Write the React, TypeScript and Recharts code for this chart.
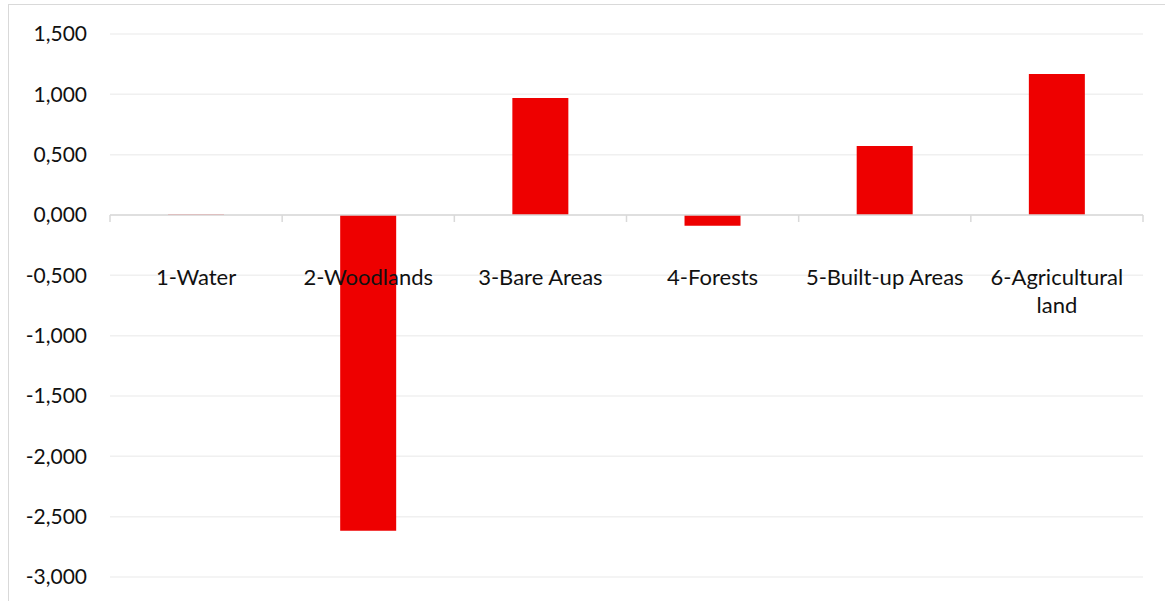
import { Bar, BarChart, CartesianGrid, ReferenceLine, XAxis, YAxis } from "recharts";

// Land cover change per class
const CATEGORIES = [
  "1-Water",
  "2-Woodlands",
  "3-Bare Areas",
  "4-Forests",
  "5-Built-up Areas",
  "6-Agricultural land",
];
const CHANGE = [0.004, -2.617, 0.97, -0.089, 0.572, 1.169];
const Y_TICKS = [1.5, 1, 0.5, 0, -0.5, -1, -1.5, -2, -2.5, -3];

const data = CATEGORIES.map((name, i) => ({ name, change: CHANGE[i] }));

const WIDTH = 1165;
const HEIGHT = 601;
const MARGIN = { top: 34, right: 22, bottom: 4, left: 0 };
const X_AXIS_HEIGHT = 20;
const Y_AXIS_WIDTH = 110;
const Y_MIN = -3;
const Y_MAX = 1.5;

const FONT = "Lato, 'Open Sans', sans-serif";
const AXIS_GREY = "#d9d9d9";
const MAX_LINE_CHARS = 17;

const plotH = HEIGHT - MARGIN.top - MARGIN.bottom - X_AXIS_HEIGHT;
const plotW = WIDTH - MARGIN.left - MARGIN.right - Y_AXIS_WIDTH;
const zeroY = MARGIN.top + (Y_MAX / (Y_MAX - Y_MIN)) * plotH;
const band = plotW / CATEGORIES.length;

const formatTick = (v: number) => v.toFixed(3).replace(".", ",");

// break long labels at the last space so they fit in one category
function wrapLabel(label: string): string[] {
  if (label.length <= MAX_LINE_CHARS) return [label];
  const cut = label.lastIndexOf(" ");
  return cut > 0 ? [label.slice(0, cut), label.slice(cut + 1)] : [label];
}

// category labels sit just under the zero line, with boundary tick marks
function CategoryTick(props: any) {
  const { x, payload, index } = props;
  const half = payload?.offset || band / 2;
  const lines = wrapLabel(String(payload.value));
  return (
    <g>
      <line x1={x - half} x2={x - half} y1={zeroY} y2={zeroY + 7} stroke={AXIS_GREY} strokeWidth={1.5} />
      {index === CATEGORIES.length - 1 && (
        <line x1={x + half} x2={x + half} y1={zeroY} y2={zeroY + 7} stroke={AXIS_GREY} strokeWidth={1.5} />
      )}
      <text x={x} y={zeroY + 70} textAnchor="middle" fontSize={22} fontFamily={FONT} fill="#111">
        {lines.map((line, i) => (
          <tspan key={i} x={x} dy={i === 0 ? 0 : 28}>
            {line}
          </tspan>
        ))}
      </text>
    </g>
  );
}

export default function App() {
  return (
    <div style={{ position: "absolute", left: 0, top: 0, width: WIDTH, height: HEIGHT, fontFamily: FONT }}>
      <div
        style={{
          position: "absolute",
          left: 8,
          top: 4,
          width: WIDTH - 8,
          height: HEIGHT - 4,
          boxSizing: "border-box",
          borderTop: `1.5px solid ${AXIS_GREY}`,
          borderLeft: `1.5px solid ${AXIS_GREY}`,
        }}
      />
      <BarChart
        width={WIDTH}
        height={HEIGHT}
        data={data}
        margin={MARGIN}
        barCategoryGap="33.7%"
        style={{ position: "absolute", left: 0, top: 0 }}
      >
        <CartesianGrid vertical={false} stroke="#f0f0f0" strokeWidth={1.5} />
        <XAxis
          dataKey="name"
          height={X_AXIS_HEIGHT}
          axisLine={false}
          tickLine={false}
          interval={0}
          tick={(p: any) => <CategoryTick {...p} />}
        />
        <YAxis
          width={Y_AXIS_WIDTH}
          domain={[Y_MIN, Y_MAX]}
          ticks={Y_TICKS}
          tickFormatter={formatTick}
          axisLine={false}
          tickLine={false}
          tickSize={0}
          tickMargin={23}
          tick={{ fontSize: 21, fill: "#111", fontFamily: FONT }}
        />
        <Bar dataKey="change" fill="#ee0000" isAnimationActive={false} />
        <ReferenceLine y={0} stroke={AXIS_GREY} strokeWidth={1.5} />
      </BarChart>
    </div>
  );
}
